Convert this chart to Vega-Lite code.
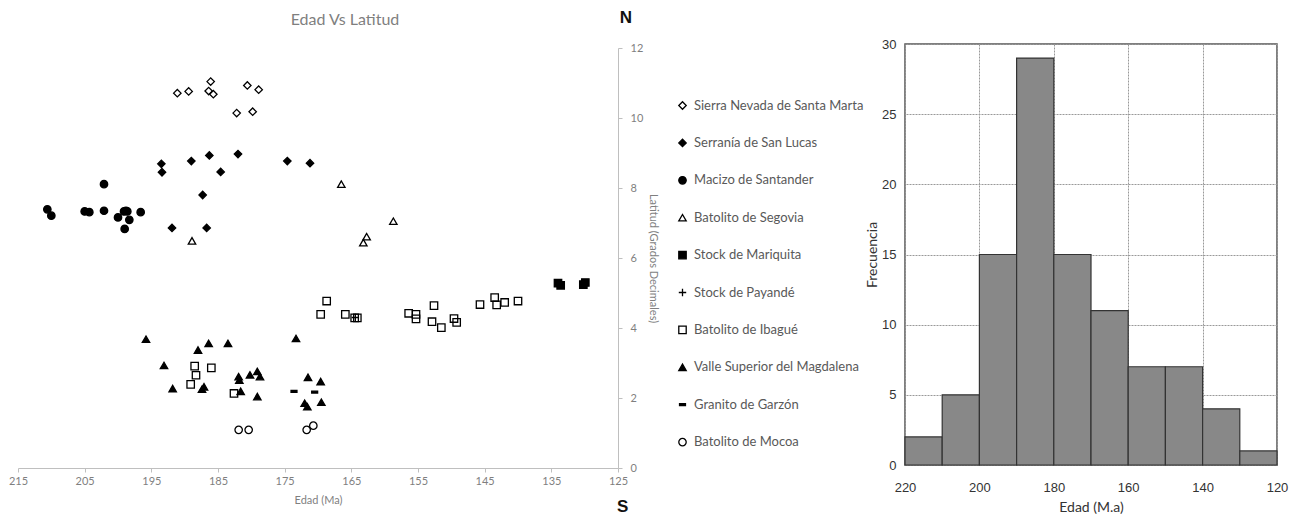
{
  "$schema": "https://vega.github.io/schema/vega-lite/v6.json",
  "background": "white",
  "padding": {"left": 8, "right": 5, "top": 8, "bottom": 0},
  "config": {"view": {"stroke": null}, "font": "Lato"},
  "spacing": 0,
  "resolve": {"legend": {"shape": "independent", "fill": "independent", "stroke": "independent"}, "scale": {"x": "independent", "y": "independent"}},
  "hconcat": [
    {
      "width": 600,
      "height": 424,
      "title": {"text": "Edad Vs Latitud", "fontSize": 16, "color": "#7f7f7f", "fontWeight": "normal", "font": "Lato", "anchor": "middle", "frame": "group", "offset": -19, "dx": 27},
      "layer": [
        {
          "data": {"values": [
            {"g": "Sierra Nevada de Santa Marta", "edad": 191.1, "lat": 10.71},
            {"g": "Sierra Nevada de Santa Marta", "edad": 189.4, "lat": 10.76},
            {"g": "Sierra Nevada de Santa Marta", "edad": 186.1, "lat": 11.04},
            {"g": "Sierra Nevada de Santa Marta", "edad": 186.4, "lat": 10.77},
            {"g": "Sierra Nevada de Santa Marta", "edad": 185.7, "lat": 10.68},
            {"g": "Sierra Nevada de Santa Marta", "edad": 180.6, "lat": 10.93},
            {"g": "Sierra Nevada de Santa Marta", "edad": 178.9, "lat": 10.81},
            {"g": "Sierra Nevada de Santa Marta", "edad": 182.2, "lat": 10.14},
            {"g": "Sierra Nevada de Santa Marta", "edad": 179.8, "lat": 10.18},
            {"g": "Serranía de San Lucas", "edad": 193.5, "lat": 8.69},
            {"g": "Serranía de San Lucas", "edad": 193.4, "lat": 8.45},
            {"g": "Serranía de San Lucas", "edad": 189.0, "lat": 8.77},
            {"g": "Serranía de San Lucas", "edad": 186.3, "lat": 8.93},
            {"g": "Serranía de San Lucas", "edad": 184.6, "lat": 8.46},
            {"g": "Serranía de San Lucas", "edad": 182.0, "lat": 8.97},
            {"g": "Serranía de San Lucas", "edad": 174.6, "lat": 8.77},
            {"g": "Serranía de San Lucas", "edad": 171.2, "lat": 8.71},
            {"g": "Serranía de San Lucas", "edad": 187.3, "lat": 7.80},
            {"g": "Serranía de San Lucas", "edad": 191.9, "lat": 6.86},
            {"g": "Serranía de San Lucas", "edad": 186.7, "lat": 6.86},
            {"g": "Macizo de Santander", "edad": 210.6, "lat": 7.39},
            {"g": "Macizo de Santander", "edad": 210.0, "lat": 7.21},
            {"g": "Macizo de Santander", "edad": 205.0, "lat": 7.33},
            {"g": "Macizo de Santander", "edad": 204.3, "lat": 7.31},
            {"g": "Macizo de Santander", "edad": 202.1, "lat": 8.11},
            {"g": "Macizo de Santander", "edad": 202.1, "lat": 7.35},
            {"g": "Macizo de Santander", "edad": 200.0, "lat": 7.16},
            {"g": "Macizo de Santander", "edad": 199.1, "lat": 7.33},
            {"g": "Macizo de Santander", "edad": 198.8, "lat": 7.35},
            {"g": "Macizo de Santander", "edad": 198.6, "lat": 7.33},
            {"g": "Macizo de Santander", "edad": 198.3, "lat": 7.09},
            {"g": "Macizo de Santander", "edad": 199.0, "lat": 6.83},
            {"g": "Macizo de Santander", "edad": 196.6, "lat": 7.31},
            {"g": "Batolito de Segovia", "edad": 188.9, "lat": 6.49},
            {"g": "Batolito de Segovia", "edad": 166.5, "lat": 8.11},
            {"g": "Batolito de Segovia", "edad": 158.7, "lat": 7.05},
            {"g": "Batolito de Segovia", "edad": 162.7, "lat": 6.61},
            {"g": "Batolito de Segovia", "edad": 163.2, "lat": 6.44},
            {"g": "Stock de Mariquita", "edad": 134.0, "lat": 5.28},
            {"g": "Stock de Mariquita", "edad": 133.6, "lat": 5.22},
            {"g": "Stock de Mariquita", "edad": 130.2, "lat": 5.24},
            {"g": "Stock de Mariquita", "edad": 129.9, "lat": 5.30},
            {"g": "Stock de Payandé", "edad": 164.4, "lat": 4.30},
            {"g": "Batolito de Ibagué", "edad": 168.7, "lat": 4.77},
            {"g": "Batolito de Ibagué", "edad": 169.6, "lat": 4.39},
            {"g": "Batolito de Ibagué", "edad": 188.5, "lat": 2.91},
            {"g": "Batolito de Ibagué", "edad": 188.3, "lat": 2.65},
            {"g": "Batolito de Ibagué", "edad": 189.1, "lat": 2.39},
            {"g": "Batolito de Ibagué", "edad": 186.0, "lat": 2.86},
            {"g": "Batolito de Ibagué", "edad": 182.6, "lat": 2.13},
            {"g": "Batolito de Ibagué", "edad": 165.9, "lat": 4.39},
            {"g": "Batolito de Ibagué", "edad": 164.5, "lat": 4.29},
            {"g": "Batolito de Ibagué", "edad": 164.1, "lat": 4.29},
            {"g": "Batolito de Ibagué", "edad": 156.4, "lat": 4.42},
            {"g": "Batolito de Ibagué", "edad": 155.3, "lat": 4.39},
            {"g": "Batolito de Ibagué", "edad": 155.3, "lat": 4.26},
            {"g": "Batolito de Ibagué", "edad": 152.6, "lat": 4.64},
            {"g": "Batolito de Ibagué", "edad": 152.9, "lat": 4.18},
            {"g": "Batolito de Ibagué", "edad": 151.5, "lat": 4.01},
            {"g": "Batolito de Ibagué", "edad": 149.6, "lat": 4.27},
            {"g": "Batolito de Ibagué", "edad": 149.2, "lat": 4.16},
            {"g": "Batolito de Ibagué", "edad": 145.7, "lat": 4.67},
            {"g": "Batolito de Ibagué", "edad": 143.5, "lat": 4.87},
            {"g": "Batolito de Ibagué", "edad": 143.2, "lat": 4.66},
            {"g": "Batolito de Ibagué", "edad": 142.0, "lat": 4.73},
            {"g": "Batolito de Ibagué", "edad": 140.0, "lat": 4.77},
            {"g": "Valle Superior del Magdalena", "edad": 195.8, "lat": 3.68},
            {"g": "Valle Superior del Magdalena", "edad": 193.1, "lat": 2.93},
            {"g": "Valle Superior del Magdalena", "edad": 191.8, "lat": 2.27},
            {"g": "Valle Superior del Magdalena", "edad": 188.0, "lat": 3.37},
            {"g": "Valle Superior del Magdalena", "edad": 186.4, "lat": 3.56},
            {"g": "Valle Superior del Magdalena", "edad": 183.5, "lat": 3.56},
            {"g": "Valle Superior del Magdalena", "edad": 187.4, "lat": 2.25},
            {"g": "Valle Superior del Magdalena", "edad": 187.1, "lat": 2.32},
            {"g": "Valle Superior del Magdalena", "edad": 181.9, "lat": 2.61},
            {"g": "Valle Superior del Magdalena", "edad": 181.8, "lat": 2.51},
            {"g": "Valle Superior del Magdalena", "edad": 181.6, "lat": 2.19},
            {"g": "Valle Superior del Magdalena", "edad": 180.2, "lat": 2.66},
            {"g": "Valle Superior del Magdalena", "edad": 179.1, "lat": 2.76},
            {"g": "Valle Superior del Magdalena", "edad": 178.7, "lat": 2.61},
            {"g": "Valle Superior del Magdalena", "edad": 179.1, "lat": 2.04},
            {"g": "Valle Superior del Magdalena", "edad": 173.3, "lat": 3.70},
            {"g": "Valle Superior del Magdalena", "edad": 171.5, "lat": 2.59},
            {"g": "Valle Superior del Magdalena", "edad": 172.0, "lat": 1.85},
            {"g": "Valle Superior del Magdalena", "edad": 171.6, "lat": 1.75},
            {"g": "Valle Superior del Magdalena", "edad": 169.6, "lat": 2.47},
            {"g": "Valle Superior del Magdalena", "edad": 169.5, "lat": 1.88},
            {"g": "Granito de Garzón", "edad": 173.6, "lat": 2.19},
            {"g": "Granito de Garzón", "edad": 170.5, "lat": 2.17},
            {"g": "Batolito de Mocoa", "edad": 181.9, "lat": 1.09},
            {"g": "Batolito de Mocoa", "edad": 180.4, "lat": 1.09},
            {"g": "Batolito de Mocoa", "edad": 171.7, "lat": 1.09},
            {"g": "Batolito de Mocoa", "edad": 170.7, "lat": 1.21}
          ]},
          "mark": {"type": "point", "strokeWidth": 1.3, "opacity": 1, "size": 55},
          "encoding": {
            "x": {"field": "edad", "type": "quantitative",
              "scale": {"domain": [125, 215], "reverse": true, "nice": false, "zero": false},
              "axis": {"values": [125, 135, 145, 155, 165, 175, 185, 195, 205, 215], "title": "Edad (Ma)", "grid": false, "labelFlush": false,
                "titleColor": "#7f7f7f", "titleFontSize": 11, "titleFontWeight": "normal", "titlePadding": 8,
                "labelColor": "#7f7f7f", "labelFontSize": 11, "labelPadding": 3,
                "domainColor": "#bfbfbf", "tickColor": "#bfbfbf", "tickSize": 4}},
            "y": {"field": "lat", "type": "quantitative",
              "scale": {"domain": [0, 12], "nice": false, "zero": false, "range": [424, 4]},
              "axis": {"orient": "right", "values": [0, 2, 4, 6, 8, 10, 12], "title": "Latitud (Grados Decimales)", "grid": false,
                "titleColor": "#7f7f7f", "titleFontSize": 11, "titleFontWeight": "normal", "titlePadding": 5,
                "labelColor": "#7f7f7f", "labelFontSize": 11, "labelPadding": 8,
                "domainColor": "#bfbfbf", "tickColor": "#bfbfbf", "tickSize": 4}},
            "shape": {"field": "g", "type": "nominal",
              "scale": {
                "domain": ["Sierra Nevada de Santa Marta", "Serranía de San Lucas", "Macizo de Santander", "Batolito de Segovia", "Stock de Mariquita", "Stock de Payandé", "Batolito de Ibagué", "Valle Superior del Magdalena", "Granito de Garzón", "Batolito de Mocoa"],
                "range": ["diamond", "diamond", "circle", "triangle-up", "square", "M-1,0L1,0M0,-1L0,1", "square", "triangle-up", "M-0.8,-0.25H0.8V0.25H-0.8Z", "circle"]},
              "legend": {"title": null, "orient": "none", "legendX": 658, "legendY": 55, "padding": 0,
                "labelFontSize": 13, "labelColor": "#595959", "labelFont": "Lato", "labelLimit": 300, "labelOffset": 5,
                "symbolSize": 55, "symbolStrokeWidth": 1.3, "rowPadding": 23.4}},
            "fill": {"field": "g", "type": "nominal",
              "scale": {
                "domain": ["Sierra Nevada de Santa Marta", "Serranía de San Lucas", "Macizo de Santander", "Batolito de Segovia", "Stock de Mariquita", "Stock de Payandé", "Batolito de Ibagué", "Valle Superior del Magdalena", "Granito de Garzón", "Batolito de Mocoa"],
                "range": ["transparent", "black", "black", "transparent", "black", "transparent", "transparent", "black", "black", "transparent"]},
              "legend": {"title": null, "orient": "none", "legendX": 658, "legendY": 55, "padding": 0,
                "labelFontSize": 13, "labelColor": "#595959", "labelFont": "Lato", "labelLimit": 300, "labelOffset": 5,
                "symbolSize": 55, "symbolStrokeWidth": 1.3, "rowPadding": 23.4}},
            "stroke": {"field": "g", "type": "nominal",
              "scale": {
                "domain": ["Sierra Nevada de Santa Marta", "Serranía de San Lucas", "Macizo de Santander", "Batolito de Segovia", "Stock de Mariquita", "Stock de Payandé", "Batolito de Ibagué", "Valle Superior del Magdalena", "Granito de Garzón", "Batolito de Mocoa"],
                "range": ["black", "black", "black", "black", "black", "black", "black", "black", "black", "black"]},
              "legend": {"title": null, "orient": "none", "legendX": 658, "legendY": 55, "padding": 0,
                "labelFontSize": 13, "labelColor": "#595959", "labelFont": "Lato", "labelLimit": 300, "labelOffset": 5,
                "symbolSize": 55, "symbolStrokeWidth": 1.3, "rowPadding": 23.4}}
          }
        },
        {
          "data": {"values": [{"edad": 123.8, "lat": 12.86, "t": "N"}, {"edad": 124.3, "lat": -1.11, "t": "S"}]},
          "mark": {"type": "text", "fontSize": 17, "fontWeight": "bold", "font": "Liberation Sans", "color": "#111111", "align": "center", "baseline": "middle"},
          "encoding": {
            "x": {"field": "edad", "type": "quantitative"},
            "y": {"field": "lat", "type": "quantitative"},
            "text": {"field": "t", "type": "nominal"}
          }
        }
      ]
    },
    {
      "width": 372,
      "height": 421,
      "view": {"stroke": "#555555", "strokeWidth": 1.5},
      "data": {"values": [
        {"desde": 210, "hasta": 220, "n": 2},
        {"desde": 200, "hasta": 210, "n": 5},
        {"desde": 190, "hasta": 200, "n": 15},
        {"desde": 180, "hasta": 190, "n": 29},
        {"desde": 170, "hasta": 180, "n": 15},
        {"desde": 160, "hasta": 170, "n": 11},
        {"desde": 150, "hasta": 160, "n": 7},
        {"desde": 140, "hasta": 150, "n": 7},
        {"desde": 130, "hasta": 140, "n": 4},
        {"desde": 120, "hasta": 130, "n": 1}
      ]},
      "mark": {"type": "bar", "fill": "#888888", "stroke": "#333333", "strokeWidth": 1.2},
      "encoding": {
        "x": {"field": "desde", "type": "quantitative",
          "scale": {"domain": [120, 220], "reverse": true, "nice": false, "zero": false},
          "axis": {"values": [120, 140, 160, 180, 200, 220], "title": "Edad (M.a)", "grid": true, "gridDash": [2, 1], "gridColor": "#999999", "labelFlush": false,
            "domain": false, "ticks": false, "labelPadding": 16, "labelFontSize": 13, "labelColor": "#333333", "labelFont": "Liberation Sans",
            "titleFontSize": 14, "titleFontWeight": "normal", "titleColor": "#333333", "titlePadding": 6}},
        "x2": {"field": "hasta"},
        "y": {"field": "n", "type": "quantitative",
          "scale": {"domain": [0, 30], "nice": false},
          "axis": {"values": [0, 5, 10, 15, 20, 25, 30], "title": "Frecuencia", "grid": true, "gridDash": [2, 1], "gridColor": "#999999",
            "domain": false, "ticks": false, "labelPadding": 9, "labelFontSize": 13, "labelColor": "#333333", "labelFont": "Liberation Sans",
            "titleFontSize": 14, "titleFontWeight": "normal", "titleColor": "#333333", "titlePadding": 2}},
        "y2": {"datum": 0}
      }
    }
  ]
}
